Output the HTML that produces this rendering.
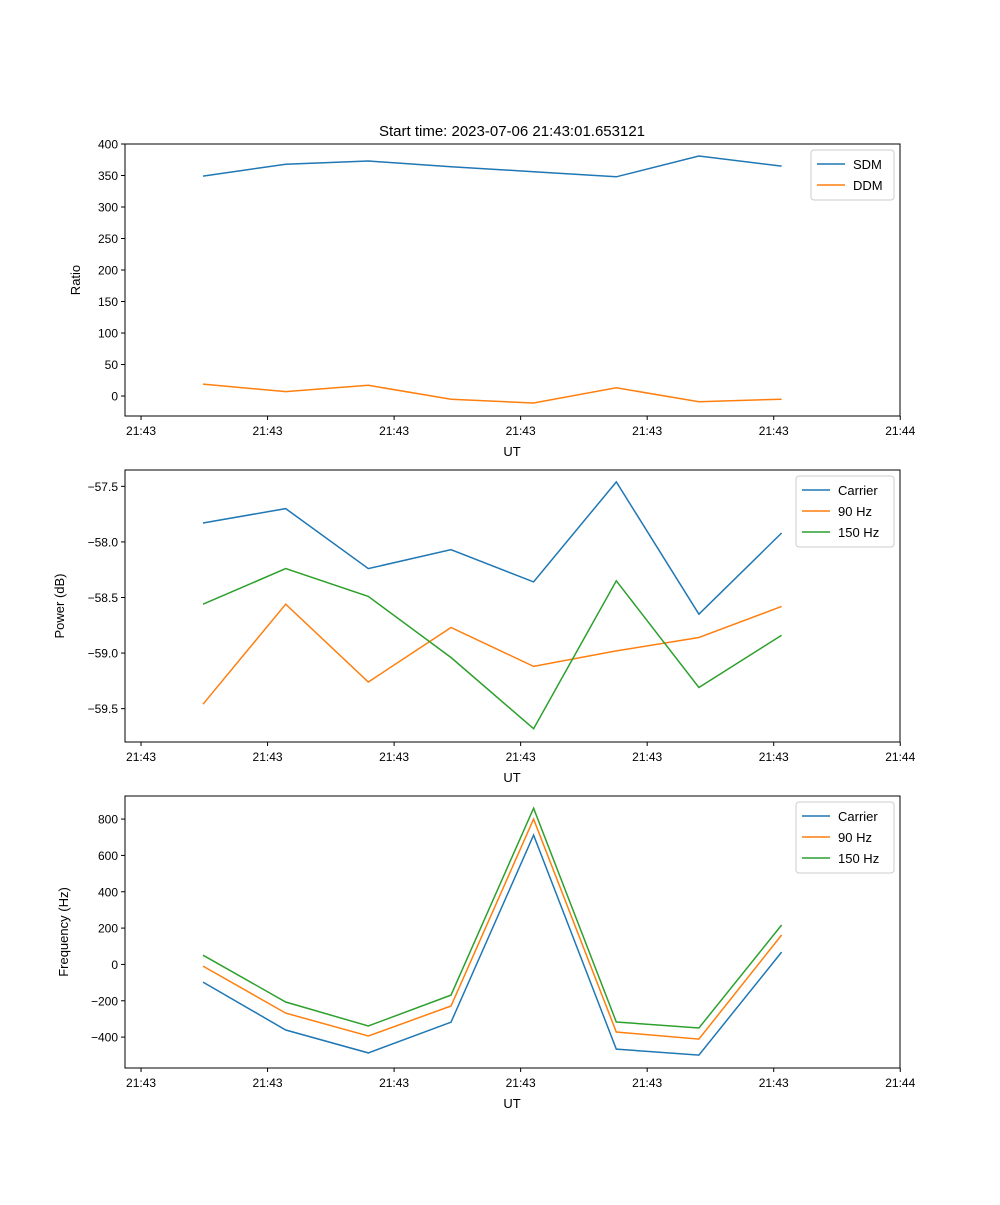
<!DOCTYPE html>
<html><head><meta charset="utf-8"><style>
body{margin:0;background:#fff;}
svg{font-family:"Liberation Sans","DejaVu Sans",sans-serif;}
</style></head><body>
<svg id="fig" width="1000" height="1200" viewBox="0 0 1000 1200" xmlns="http://www.w3.org/2000/svg">
<rect width="1000" height="1200" fill="#fff"/>
<text x="512" y="136" text-anchor="middle" font-size="15">Start time: 2023-07-06 21:43:01.653121</text>
</svg>
<script>
const xTickLabels = ["21:43","21:43","21:43","21:43","21:43","21:43","21:44"];
const xTickPos = [-0.75,0.781,2.312,3.843,5.374,6.905,8.436];
const sdm = [349,368,373,364,356,348,381,365];
const ddm = [19,7,17,-5,-11,13,-9,-5];
const pCarrier = [-57.83,-57.70,-58.24,-58.07,-58.36,-57.46,-58.65,-57.92];
const p90 = [-59.46,-58.56,-59.26,-58.77,-59.12,-58.98,-58.86,-58.58];
const p150 = [-58.56,-58.24,-58.49,-59.04,-59.68,-58.35,-59.31,-58.84];
const fCarrier = [-97,-361,-487,-318,712,-466,-499,68];
const f90 = [-9,-268,-394,-229,800,-372,-411,162];
const f150 = [51,-207,-339,-169,860,-317,-350,217];
const yTicks1 = [0,50,100,150,200,250,300,350,400];
const yTicks2 = [-59.5,-59.0,-58.5,-58.0,-57.5];
const yTicks3 = [-400,-200,0,200,400,600,800];

const NS="http://www.w3.org/2000/svg";
const svg=document.getElementById('fig');
function mk(tag,attrs,parent){const e=document.createElementNS(NS,tag);for(const k in attrs)e.setAttribute(k,attrs[k]);(parent||svg).appendChild(e);return e;}
const L=125,R=900,xMin=-0.944,xMax=8.433;
function xs(v){return L+(v-xMin)/(xMax-xMin)*(R-L);}
const C=["#1f77b4","#ff7f0e","#2ca02c"];
function panel(name,top,yMin,yMax,yTicks,fmt,ylabel,series,labels,legendW){
  const bot=top+272;
  const g=mk('g',{});
  
  
  const ys=v=>bot-(v-yMin)/(yMax-yMin)*272;
  series.forEach((s,si)=>{
    const pts=s.map((v,i)=>xs(i).toFixed(1)+','+ys(v).toFixed(1)).join(' ');
    const pl=mk('polyline',{points:pts,fill:'none',stroke:C[si],'stroke-width':1.5},g);
    
    
  });
  mk('rect',{x:L,y:top,width:R-L,height:272,fill:'none',stroke:'#000','stroke-width':1},g);
  xTickPos.forEach((t,i)=>{const x=xs(t);
    mk('line',{x1:x,x2:x,y1:bot,y2:bot+4,stroke:'#000'},g);
    const tx=mk('text',{x:x,y:bot+19,'text-anchor':'middle','font-size':12},g);tx.textContent=xTickLabels[i];
    
    
  });
  yTicks.forEach(t=>{const y=ys(t);
    mk('line',{x1:L-4,x2:L,y1:y,y2:y,stroke:'#000'},g);
    const tx=mk('text',{x:L-7,y:y+4.5,'text-anchor':'end','font-size':12},g);tx.textContent=fmt(t);
    
    
  });
  const xl=mk('text',{x:512,y:bot+40,'text-anchor':'middle','font-size':13},g);xl.textContent='UT';
  
  
  const yx=name==='ratio-panel'?80:name==='power-panel'?64:68;
  const yl=mk('text',{x:yx,y:top+136,'text-anchor':'middle','font-size':13,transform:`rotate(-90 ${yx} ${top+136})`},g);yl.textContent=ylabel;
  
  
  const lg=mk('g',{},g);
  
  
  const lx=R-6-legendW,ly=top+6,lh=labels.length*21+8;
  mk('rect',{x:lx,y:ly,width:legendW,height:lh,rx:3,fill:'#fff',stroke:'#ccc'},lg);
  labels.forEach((lab,i)=>{const yy=ly+14+i*21;
    mk('line',{x1:lx+6,x2:lx+34,y1:yy,y2:yy,stroke:C[i],'stroke-width':1.5},lg);
    const t=mk('text',{x:lx+42,y:yy+5,'font-size':13},lg);t.textContent=lab;
    
    
  });
}
const minus=s=>s.replace('-','\u2212');
panel('ratio-panel',144,-31.7,400,yTicks1,t=>minus(String(t)),'Ratio',[sdm,ddm],['SDM','DDM'],83);
panel('power-panel',470,-59.80,-57.353,yTicks2,t=>minus(t.toFixed(1)),'Power (dB)',[pCarrier,p90,p150],['Carrier','90 Hz','150 Hz'],98);
panel('frequency-panel',796,-570,927,yTicks3,t=>minus(String(t)),'Frequency (Hz)',[fCarrier,f90,f150],['Carrier','90 Hz','150 Hz'],98);
</script>
</body></html>
